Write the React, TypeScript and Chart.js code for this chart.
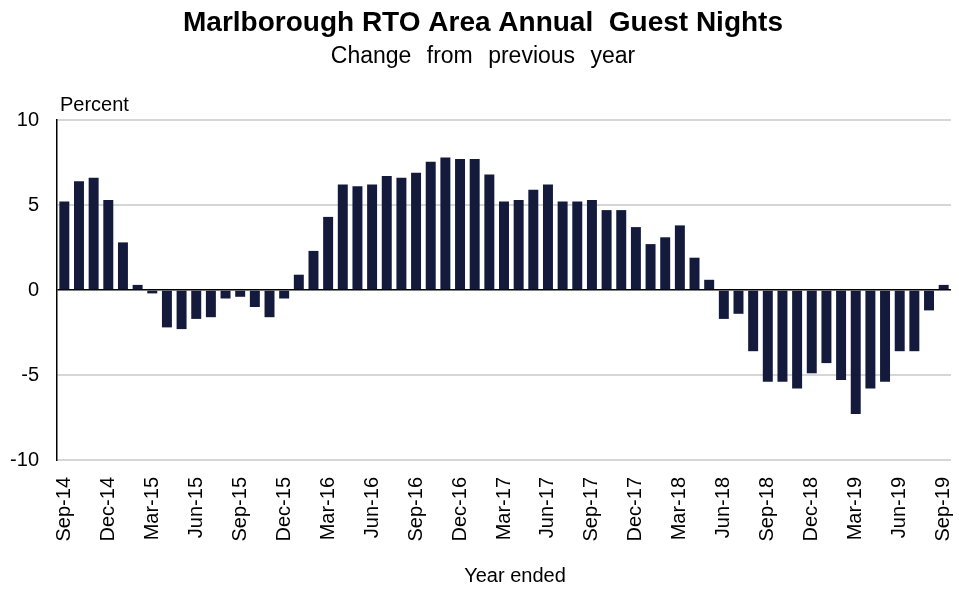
import React, { useEffect, useRef } from "react";
import { Chart, registerables } from "chart.js";

Chart.register(...registerables);

const months: string[] = [
  "Sep-14","Oct-14","Nov-14","Dec-14","Jan-15","Feb-15","Mar-15","Apr-15","May-15","Jun-15","Jul-15","Aug-15",
  "Sep-15","Oct-15","Nov-15","Dec-15","Jan-16","Feb-16","Mar-16","Apr-16","May-16","Jun-16","Jul-16","Aug-16",
  "Sep-16","Oct-16","Nov-16","Dec-16","Jan-17","Feb-17","Mar-17","Apr-17","May-17","Jun-17","Jul-17","Aug-17",
  "Sep-17","Oct-17","Nov-17","Dec-17","Jan-18","Feb-18","Mar-18","Apr-18","May-18","Jun-18","Jul-18","Aug-18",
  "Sep-18","Oct-18","Nov-18","Dec-18","Jan-19","Feb-19","Mar-19","Apr-19","May-19","Jun-19","Jul-19","Aug-19",
  "Sep-19",
];

const changePct: number[] = [
  5.2, 6.4, 6.6, 5.3, 2.8, 0.3, -0.2, -2.2, -2.3, -1.7, -1.6, -0.5,
  -0.4, -1.0, -1.6, -0.5, 0.9, 2.3, 4.3, 6.2, 6.1, 6.2, 6.7, 6.6,
  6.9, 7.55, 7.8, 7.7, 7.7, 6.8, 5.2, 5.3, 5.9, 6.2, 5.2, 5.2,
  5.3, 4.7, 4.7, 3.7, 2.7, 3.1, 3.8, 1.9, 0.6, -1.7, -1.4, -3.6,
  -5.4, -5.4, -5.8, -4.9, -4.3, -5.3, -7.3, -5.8, -5.4, -3.6, -3.6, -1.2,
  0.3,
];

const titleText = "Marlborough RTO Area Annual  Guest Nights";
const subtitleText = "Change from previous year";
const yUnitText = "Percent";
const xAxisText = "Year ended";

const FONT = "Arial, 'Liberation Sans', sans-serif";

const textPlugin = {
  id: "texts",
  afterDraw(chart: any) {
    const ctx = chart.ctx;
    const area = chart.chartArea;
    ctx.save();
    ctx.fillStyle = "#000";
    ctx.textBaseline = "middle";
    ctx.textAlign = "center";
    ctx.font = "bold 28px " + FONT;
    ctx.fillText(titleText, 483, 23);
    ctx.font = "23px " + FONT;
    try { (ctx as any).wordSpacing = "9px"; } catch (e) {}
    ctx.fillText(subtitleText, 483, 57);
    try { (ctx as any).wordSpacing = "0px"; } catch (e) {}
    ctx.font = "20px " + FONT;
    ctx.fillText(xAxisText, 515, 576);
    ctx.textAlign = "left";
    ctx.fillText(yUnitText, area.left + 3, 105);
    ctx.restore();
  },
};

export default function App() {
  const ref = useRef<HTMLCanvasElement | null>(null);
  useEffect(() => {
    document.body.style.margin = "0";
    const canvas = ref.current!;
    const chart = new Chart(canvas, {
      type: "bar",
      data: {
        labels: months,
        datasets: [
          {
            data: changePct,
            backgroundColor: "#141a3b",
            borderColor: "#141a3b",
            borderWidth: 0,
            barPercentage: 0.68,
            categoryPercentage: 1.0,
          },
        ],
      },
      options: {
        animation: false,
        responsive: false,
        maintainAspectRatio: false,
        layout: { padding: { top: 120, right: 8, left: 0, bottom: 0 } },
        plugins: {
          legend: { display: false },
          title: { display: false },
          tooltip: { enabled: false },
        },
        scales: {
          x: {
            grid: { display: false },
            border: { display: false },
            ticks: {
              autoSkip: false,
              maxRotation: 90,
              minRotation: 90,
              color: "#000",
              padding: 9,
              font: { size: 20, family: FONT },
              callback: (_v: any, i: number) => (i % 3 === 0 ? months[i] : ""),
            },
            afterFit: (scale: any) => {
              scale.height = 130;
              scale.paddingRight = 0;
              scale.paddingLeft = 0;
            },
          },
          y: {
            min: -10,
            max: 10,
            ticks: {
              stepSize: 5,
              color: "#000",
              padding: 14,
              font: { size: 20, family: FONT },
            },
            grid: {
              color: (c: any) => (c.tick && c.tick.value === 0 ? "#000" : "#d6d6d6"),
              lineWidth: (c: any) => (c.tick && c.tick.value === 0 ? 1.5 : 2),
              tickColor: "rgba(0,0,0,0)",
              tickLength: 4,
            },
            border: { display: true, color: "#000", width: 1.5 },
            afterFit: (scale: any) => {
              scale.width = 57;
            },
          },
        },
      },
      plugins: [textPlugin],
    });
    return () => chart.destroy();
  }, []);
  return (
    <div style={{ width: 959, height: 590 }}>
      <canvas ref={ref} width={959} height={590} style={{ width: 959, height: 590, display: "block" }} />
    </div>
  );
}
